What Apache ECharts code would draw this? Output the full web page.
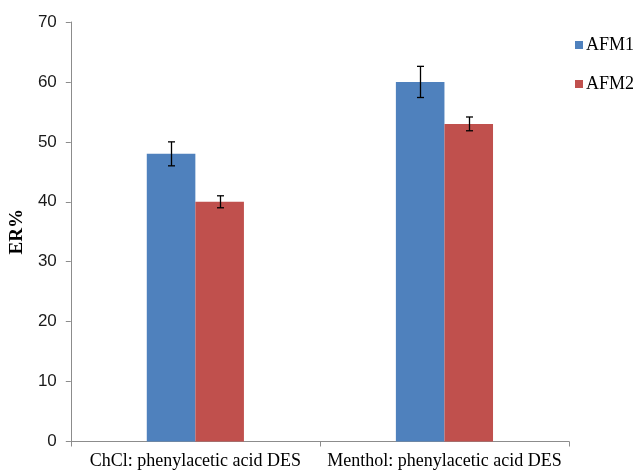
<!DOCTYPE html>
<html>
<head>
<meta charset="utf-8">
<script src="https://cdn.jsdelivr.net/npm/echarts@6/dist/echarts.min.js"></script>
<style>html,body{margin:0;padding:0;background:#fff}#c{width:634px;height:471px}</style>
</head>
<body>
<div id="c"></div>
<script>
const categories = ['ChCl: phenylacetic acid DES', 'Menthol: phenylacetic acid DES'];
const seriesNames = ['AFM1', 'AFM2'];
const afm1 = [48, 60];
const afm2 = [40, 53];
const afm1Err = [2, 2.6];
const afm2Err = [1, 1.15];
const yTicks = { min: 0, max: 70, interval: 10 };

const colors = ['#4F81BD', '#C0504D'];
const catGapFrac = 0.61;

function errData(vals, errs) {
  return vals.map((v, i) => [i, v - errs[i], v + errs[i]]);
}
function errSeries(vals, errs, idx) {
  return {
    type: 'custom',
    name: seriesNames[idx] + ' err',
    z: 5,
    data: errData(vals, errs),
    renderItem: function (params, api) {
      const cat = api.value(0);
      const lo = api.coord([cat, api.value(1)]);
      const hi = api.coord([cat, api.value(2)]);
      const catW = api.size([1, 0])[0];
      const bw = catW * (1 - catGapFrac) / 2;
      const off = (idx === 0 ? -bw / 2 : bw / 2);
      const x = Math.round(lo[0] + off) + 0.5;
      const cap = 3.5;
      const st = { stroke: '#000', lineWidth: 1.3 };
      return {
        type: 'group',
        children: [
          { type: 'line', shape: { x1: x, y1: hi[1], x2: x, y2: lo[1] }, style: st },
          { type: 'line', shape: { x1: x - cap, y1: hi[1], x2: x + cap, y2: hi[1] }, style: st },
          { type: 'line', shape: { x1: x - cap, y1: lo[1], x2: x + cap, y2: lo[1] }, style: st }
        ]
      };
    }
  };
}

const chart = echarts.init(document.getElementById('c'), null, { renderer: 'canvas' });
chart.setOption({
  animation: false,
  color: colors,
  grid: { left: 70, right: 65, top: 22, bottom: 29.5, containLabel: false },
  legend: {
    data: seriesNames,
    orient: 'vertical',
    left: 570,
    top: 31,
    itemWidth: 8,
    itemHeight: 8,
    itemGap: 21,
    icon: 'rect',
    textStyle: { fontFamily: 'Liberation Serif', fontSize: 18, color: '#000', padding: [0, 0, 0, -2] }
  },
  xAxis: {
    type: 'category',
    data: categories,
    boundaryGap: true,
    axisLine: { lineStyle: { color: '#8c8c8c', width: 1 } },
    axisTick: { show: true, length: 5, lineStyle: { color: '#8c8c8c' } },
    axisLabel: { fontFamily: 'Liberation Serif', fontSize: 18, color: '#000', margin: 11, interval: 0 }
  },
  yAxis: {
    type: 'value',
    min: yTicks.min,
    max: yTicks.max,
    interval: yTicks.interval,
    name: 'ER%',
    nameLocation: 'middle',
    nameGap: 43,
    nameTextStyle: { fontFamily: 'Liberation Serif', fontSize: 19, fontWeight: 'bold', color: '#000' },
    axisLine: { show: true, lineStyle: { color: '#8c8c8c', width: 1 } },
    axisTick: { show: true, length: 5, lineStyle: { color: '#8c8c8c' } },
    splitLine: { show: false },
    axisLabel: { fontFamily: 'Liberation Sans', fontSize: 17, color: '#1a1a1a', margin: 14 }
  },
  series: [
    { type: 'bar', name: seriesNames[0], data: afm1, barGap: '0%', barCategoryGap: (catGapFrac * 100) + '%', itemStyle: { color: colors[0] } },
    { type: 'bar', name: seriesNames[1], data: afm2, barGap: '0%', barCategoryGap: (catGapFrac * 100) + '%', itemStyle: { color: colors[1] } },
    errSeries(afm1, afm1Err, 0),
    errSeries(afm2, afm2Err, 1)
  ]
});
</script>
</body>
</html>
